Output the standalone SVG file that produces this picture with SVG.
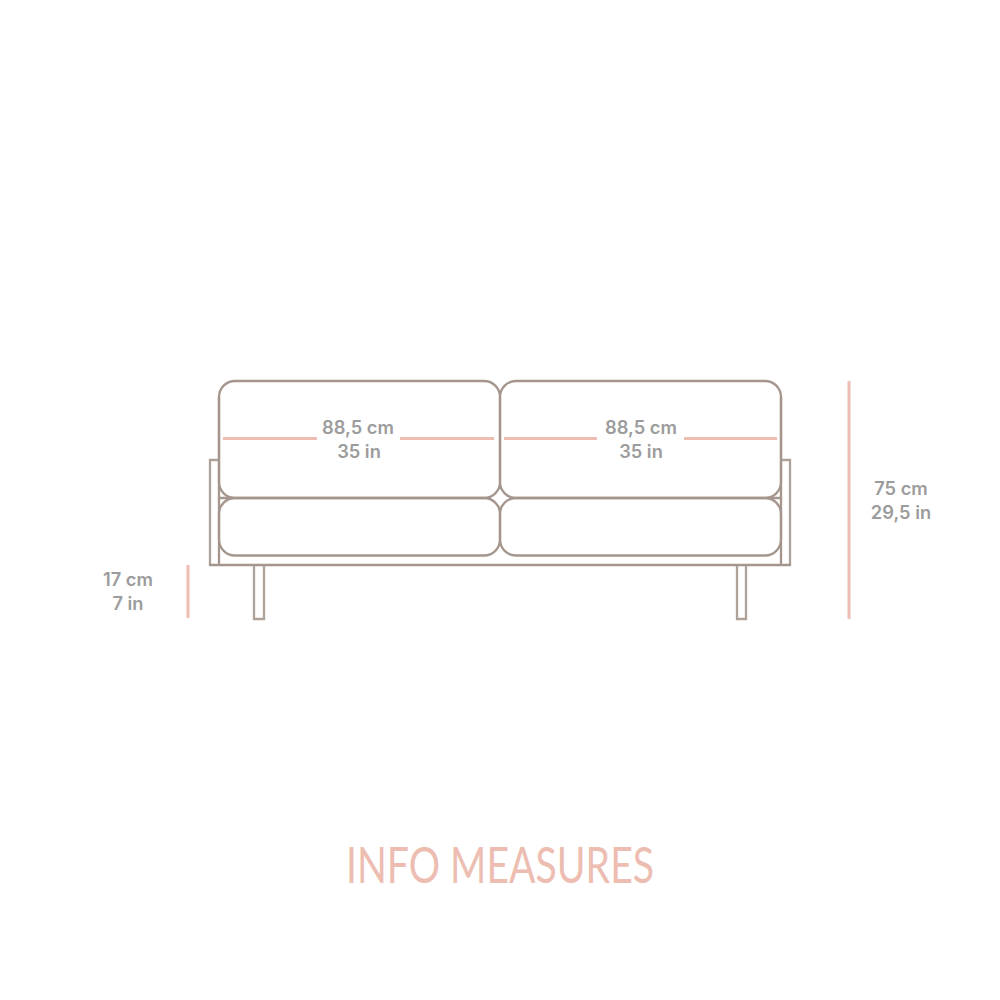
<svg xmlns="http://www.w3.org/2000/svg" width="1000" height="1000" viewBox="0 0 1000 1000">
<style>
.l{fill:none;stroke:#a4968c;stroke-width:2.300}
.t{fill:none;stroke:#aea299;stroke-width:2.300}
.m{fill:none;stroke:#ecbdb0;stroke-width:3}
.d{font-family:Inter,"Liberation Sans",sans-serif;font-weight:600;font-size:18.3px;fill:#9c9c9c;text-anchor:middle}
.h{font-family:Lato,"Liberation Sans",sans-serif;font-weight:400;font-size:50px;fill:#ecbdb0}
</style>
<rect width="1000" height="1000" fill="#fff"/>
<g id="sofa">
<g id="arm-left"><path class="t" d="M219 460H210V565"/><path class="l" d="M219 397V565M219 498H233"/></g>
<g id="arm-right"><path class="t" d="M781 460H790V565"/><path class="l" d="M781 397V565M781 498H767"/></g>
<g id="leg-left"><path class="t" d="M254 565V619H264V565"/></g>
<g id="leg-right"><path class="t" d="M737 565V619H746V565"/></g>
<g id="base"><path class="l" d="M209 565H791"/></g>
<g id="back-left"><rect class="l" x="219" y="381" width="281" height="117" rx="16"/></g>
<g id="back-right"><rect class="l" x="500" y="381" width="281" height="117" rx="16"/></g>
<g id="seat-left"><rect class="l" x="219" y="498" width="281" height="57.500" rx="16"/></g>
<g id="seat-right"><rect class="l" x="500" y="498" width="281" height="57.500" rx="16"/></g>
</g>
<g id="connectors">
<path class="m" d="M223 438.500H317M400 438.500H494M504 438.500H597M684 438.500H777"/>
<path class="m" d="M849 381V619M188 565V618"/>
</g>
<g id="labels">
<text class="d" x="358" y="434">88,5 cm</text><text class="d" x="359" y="458">35 in</text>
<text class="d" x="641" y="434">88,5 cm</text><text class="d" x="641" y="458">35 in</text>
<text class="d" x="901" y="495">75 cm</text><text class="d" x="901" y="519">29,5 in</text>
<text class="d" x="128" y="586">17 cm</text><text class="d" x="128" y="610">7 in</text>
<text class="h" x="346" y="883" textLength="308" lengthAdjust="spacingAndGlyphs">INFO MEASURES</text>
</g>
</svg>
